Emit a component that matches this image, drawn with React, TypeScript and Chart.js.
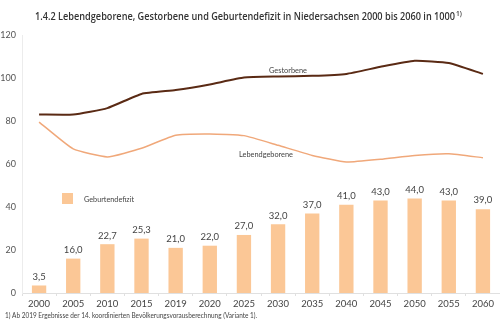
import React, { useEffect, useRef } from "react";
import { Chart, registerables } from "chart.js";

Chart.register(...registerables);

const categories = ["2000", "2005", "2010", "2015", "2019", "2020", "2025", "2030", "2035", "2040", "2045", "2050", "2055", "2060"];
const gestorbene = [83, 83, 86, 92.6, 94.4, 97, 100.2, 100.7, 101, 101.9, 105.2, 108, 107, 101.9];
const lebendgeborene = [79.5, 67, 63.3, 67.3, 73.4, 74, 73.2, 68.7, 64, 60.9, 62.2, 64, 64.8, 62.9];
const geburtendefizit = [3.5, 16.0, 22.7, 25.3, 21.0, 22.0, 27.0, 32.0, 37.0, 41.0, 43.0, 44.0, 43.0, 39.0];
const yTicks = [0, 20, 40, 60, 80, 100, 120];

const titleText = "1.4.2 Lebendgeborene, Gestorbene und Geburtendefizit in Niedersachsen 2000 bis 2060 in 1000";
const footnoteText = "1) Ab 2019 Ergebnisse der 14. koordinierten Bevölkerungsvorausberechnung (Variante 1).";

const FONT = "Lato, 'Noto Sans', sans-serif";
const TFONT = "'Open Sans', 'Noto Sans', sans-serif";
const BAR_COLOR = "#fbc796";
const DARK = "#5a2a14";
const LIGHT = "#f0a87a";

const fmt = (v: number) => v.toFixed(1).replace(".", ",");

function fitText(ctx: any, text: string, x: number, y: number, width: number) {
  const w = ctx.measureText(text).width;
  ctx.save();
  ctx.translate(x, y);
  ctx.scale(width / w, 1);
  ctx.fillText(text, 0, 0);
  ctx.restore();
}

const decorPlugin = {
  id: "decor",
  afterDatasetsDraw(chart: any) {
    const ctx = chart.ctx;
    ctx.save();
    // bar value labels
    ctx.font = `9.5px ${FONT}`;
    ctx.fillStyle = "#444";
    ctx.textAlign = "center";
    ctx.textBaseline = "bottom";
    const meta = chart.getDatasetMeta(2);
    meta.data.forEach((el: any, i: number) => {
      ctx.fillText(fmt(geburtendefizit[i]), el.x, el.y - 4);
    });
    // line annotations
    ctx.fillStyle = "#444";
    ctx.font = `7.8px ${FONT}`;
    ctx.textBaseline = "middle";
    ctx.textAlign = "left";
    fitText(ctx, "Gestorbene", 269, 70, 38);
    fitText(ctx, "Lebendgeborene", 239, 154, 54);
    // legend
    ctx.fillStyle = BAR_COLOR;
    ctx.fillRect(62, 193, 11, 11);
    ctx.fillStyle = "#444";
    ctx.font = `8px ${FONT}`;
    fitText(ctx, "Geburtendefizit", 84, 199, 50);
    // title
    ctx.fillStyle = "#333";
    ctx.textBaseline = "middle";
    ctx.font = `600 11px ${TFONT}`;
    fitText(ctx, titleText, 35, 17, 420);
    ctx.font = `600 6.5px ${TFONT}`;
    ctx.fillText("1)", 456, 14);
    // footnote
    ctx.font = `7px ${FONT}`;
    ctx.fillStyle = "#444";
    fitText(ctx, footnoteText, 5, 316, 252);
    ctx.restore();
  },
};

export default function App() {
  const ref = useRef<HTMLCanvasElement>(null);
  useEffect(() => {
    if (!ref.current) return;
    const chart = new Chart(ref.current, {
      type: "bar",
      data: {
        labels: categories,
        datasets: [
          {
            type: "line",
            label: "Gestorbene",
            data: gestorbene,
            borderColor: DARK,
            borderWidth: 2,
            pointRadius: 0,
            tension: 0.15,
            fill: false,
          } as any,
          {
            type: "line",
            label: "Lebendgeborene",
            data: lebendgeborene,
            borderColor: LIGHT,
            borderWidth: 1.5,
            pointRadius: 0,
            tension: 0.15,
            fill: false,
          } as any,
          {
            type: "bar",
            label: "Geburtendefizit",
            data: geburtendefizit,
            backgroundColor: BAR_COLOR,
            barPercentage: 0.42,
            categoryPercentage: 1,
          },
        ],
      },
      options: {
        animation: false,
        responsive: false,
        maintainAspectRatio: false,
        layout: { padding: { top: 35, right: 0, left: 0, bottom: 0 } },
        plugins: {
          legend: { display: false },
          title: { display: false },
          tooltip: { enabled: false },
        },
        scales: {
          x: {
            offset: true,
            grid: {
              display: true,
              drawOnChartArea: false,
              drawTicks: true,
              tickLength: 3,
              color: "#e0e0e0",
              offset: true,
            },
            border: { display: true, color: "#e0e0e0" },
            ticks: {
              font: { family: FONT, size: 9.5 },
              color: "#444",
              padding: 2,
              maxRotation: 0,
              autoSkip: false,
            },
            afterFit: (s: any) => {
              s.height = 34;
            },
          },
          y: {
            min: 0,
            max: 120,
            afterBuildTicks: (s: any) => {
              s.ticks = yTicks.map((v) => ({ value: v }));
            },
            grid: { display: false, drawTicks: false },
            border: { display: true, color: "#ececec" },
            ticks: {
              font: { family: FONT, size: 9 },
              color: "#555",
              padding: 6,
            },
            afterFit: (s: any) => {
              s.width = 22;
            },
          },
        },
      },
      plugins: [decorPlugin],
    });
    return () => chart.destroy();
  }, []);
  return (
    <div style={{ position: "fixed", left: 0, top: 0, width: 500, height: 327, background: "#fff" }}>
      <canvas ref={ref} width={500} height={327} style={{ width: 500, height: 327 }} />
    </div>
  );
}
